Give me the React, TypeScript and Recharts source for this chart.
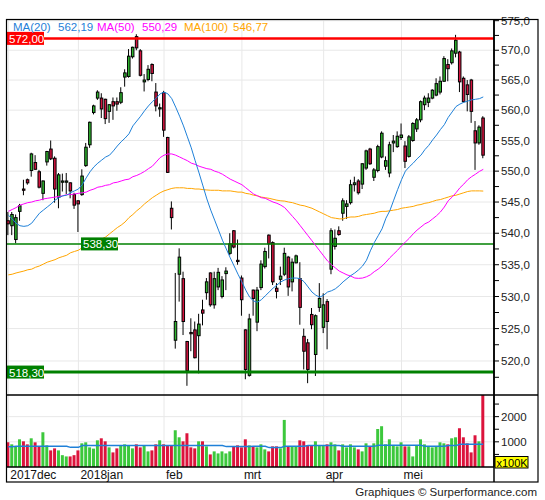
import React from 'react';
import { ComposedChart, Bar, Line, XAxis, YAxis, ReferenceLine, CartesianGrid, Cell } from 'recharts';

const FONT = '"Liberation Sans", Arial, sans-serif';
const GREEN = '#2fb52f';
const RED = '#d4133f';
const VGREEN = '#3cc83c';
const VRED = '#dc143c';
const BLUE = '#1f80d8';
const MAGENTA = '#ff00ff';
const ORANGE = '#ffa500';

const XMIN = -0.334;
const XMAX = 124.76;

const opens = [
  542.0, 541.2, 539.0, 543.5, 547.1, 548.6, 550.1, 551.4, 549.9, 546.4,
  551.5, 553.6, 552.1, 545.8, 548.2, 548.2, 548.1, 546.2, 545.2, 546.2,
  550.9, 554.3, 559.6, 562.0, 562.0, 561.8, 559.8, 561.4, 561.4, 561.3,
  565.5, 565.6, 568.9, 572.3, 569.9, 564.7, 565.1, 567.6, 563.0, 560.2,
  562.9, 555.5, 544.0, 523.2, 533.5, 532.8, 523.0, 524.4, 524.8, 523.9,
  527.9, 530.6, 533.7, 528.7, 531.5, 530.0, 533.6, 536.8, 540.4, 535.7,
  532.9, 524.8, 517.8, 531.0, 526.0, 531.4, 534.7, 539.7, 538.5, 531.3,
  532.7, 533.5, 536.2, 532.3, 535.3, 532.8, 523.8, 522.8, 527.2, 521.0,
  528.3, 525.2, 529.2, 534.3, 537.9, 540.4, 543.2, 544.3, 544.9, 547.8,
  548.4, 547.9, 550.5, 553.6, 549.0, 550.1, 552.3, 550.8, 549.7, 554.6,
  554.0, 555.5, 554.1, 552.4, 555.0, 556.9, 558.4, 560.9, 561.3, 562.0,
  562.5, 563.0, 564.8, 567.6, 567.9, 569.5, 569.7, 565.3, 564.2, 565.0,
  556.6, 554.6, 558.7,
];
const highs = [
  543.4, 543.4, 543.0, 544.7, 548.6, 548.8, 553.0, 552.6, 550.2, 548.5,
  553.3, 555.0, 552.4, 549.7, 549.6, 549.7, 548.2, 546.5, 545.3, 550.3,
  554.6, 558.1, 560.9, 563.3, 562.8, 561.9, 561.0, 562.1, 562.1, 563.8,
  566.8, 570.2, 570.6, 572.7, 570.2, 566.0, 567.5, 567.8, 564.5, 561.1,
  563.2, 555.6, 545.1, 533.7, 537.6, 533.9, 523.1, 526.6, 526.1, 527.3,
  529.5, 532.9, 533.8, 533.9, 534.5, 533.2, 534.6, 540.0, 540.5, 539.0,
  533.3, 524.9, 527.3, 531.1, 531.5, 535.7, 537.7, 539.8, 538.7, 532.1,
  534.7, 537.7, 536.4, 536.0, 536.6, 535.4, 525.0, 523.4, 528.2, 527.2,
  532.1, 530.5, 529.6, 540.8, 540.6, 541.1, 545.6, 545.3, 548.6, 549.1,
  548.7, 551.3, 553.5, 553.8, 550.5, 554.3, 556.5, 552.4, 554.8, 555.9,
  556.5, 557.8, 554.9, 555.9, 558.0, 558.7, 561.6, 562.4, 562.8, 563.5,
  565.3, 565.6, 569.0, 568.5, 570.3, 572.6, 569.9, 565.6, 565.0, 565.2,
  558.2, 557.5, 559.0,
];
const lows = [
  539.7, 539.7, 538.4, 542.0, 546.1, 547.8, 549.1, 550.2, 547.2, 545.3,
  550.9, 551.8, 544.9, 544.0, 546.7, 546.3, 545.6, 543.9, 540.2, 546.0,
  550.7, 553.8, 559.3, 561.7, 558.7, 557.7, 557.9, 558.4, 559.9, 561.0,
  563.9, 565.4, 568.6, 570.0, 565.6, 563.1, 564.8, 564.8, 559.8, 558.9,
  555.6, 549.7, 540.6, 521.9, 529.2, 524.0, 516.2, 521.5, 520.4, 518.1,
  525.5, 529.5, 528.4, 528.1, 531.0, 529.7, 531.0, 536.5, 537.6, 535.0,
  527.0, 517.2, 517.6, 527.0, 524.6, 531.0, 534.4, 536.0, 531.8, 529.7,
  531.8, 533.2, 530.1, 530.8, 535.2, 525.6, 518.7, 516.6, 524.9, 517.7,
  527.6, 524.3, 521.8, 533.5, 537.4, 539.6, 542.0, 542.3, 544.6, 546.7,
  546.2, 547.1, 550.2, 551.0, 548.4, 549.8, 552.1, 550.2, 549.0, 553.1,
  553.8, 555.1, 550.5, 552.2, 554.8, 556.4, 558.0, 560.0, 560.5, 561.8,
  562.3, 562.6, 564.7, 564.8, 567.6, 568.8, 563.0, 561.3, 559.8, 557.9,
  550.2, 554.3, 552.1,
];
const closes = [
  541.5, 543.0, 542.5, 544.4, 546.9, 548.1, 552.8, 550.3, 547.4, 548.4,
  553.2, 552.0, 547.1, 549.4, 548.4, 548.4, 546.8, 544.5, 544.7, 549.2,
  553.9, 558.0, 560.7, 563.0, 560.2, 558.6, 560.9, 560.7, 561.0, 562.9,
  566.2, 569.0, 570.5, 570.4, 565.8, 565.0, 566.8, 566.1, 560.7, 560.4,
  556.7, 549.8, 542.5, 526.1, 536.2, 526.1, 518.5, 524.2, 520.5, 525.7,
  527.4, 532.3, 528.7, 532.8, 533.8, 532.6, 534.0, 538.3, 537.8, 535.5,
  529.5, 518.7, 526.5, 529.7, 531.0, 535.1, 537.1, 538.3, 532.3, 530.8,
  533.2, 536.8, 531.5, 535.4, 536.4, 528.3, 521.5, 518.7, 525.6, 527.0,
  529.7, 528.7, 526.1, 540.4, 539.2, 539.8, 545.2, 544.7, 547.8, 548.1,
  546.5, 551.2, 553.3, 551.2, 550.2, 554.0, 556.2, 551.7, 554.3, 554.9,
  555.7, 555.9, 551.6, 555.6, 557.8, 558.4, 561.4, 562.0, 562.0, 563.3,
  564.4, 564.8, 568.6, 566.9, 569.9, 571.7, 564.7, 561.4, 562.6, 559.8,
  554.6, 557.2, 552.6,
];
const volumes = [
  980, 900, 830, 1100, 1020, 900, 1140, 980, 830, 1380,
  860, 660, 740, 660, 470, 420, 420, 470, 660, 940,
  980, 780, 730, 1060, 1140, 1020, 780, 580, 740, 860,
  900, 860, 740, 900, 780, 860, 620, 660, 900, 1060,
  900, 860, 860, 1460, 1180, 1020, 1340, 780, 740, 1020,
  1020, 820, 500, 620, 540, 620, 540, 620, 820, 860,
  780, 1100, 860, 820, 780, 900, 700, 620, 820, 820,
  740, 1870, 820, 820, 820, 1060, 1020, 860, 860, 1020,
  860, 860, 900, 980, 900, 660, 900, 780, 900, 780,
  700, 620, 940, 820, 940, 1510, 1620, 900, 1100, 860,
  820, 980, 820, 820, 420, 860, 1100, 900, 820, 780,
  820, 980, 940, 900, 1140, 1180, 1540, 1180, 940, 580,
  1260, 1020, 2950,
];
const volAvg = [
  800, 800, 820, 820, 820, 820, 820, 820, 820, 820,
  820, 820, 820, 820, 820, 820, 780, 780, 780, 850,
  850, 850, 850, 850, 850, 850, 850, 850, 850, 850,
  850, 850, 850, 850, 850, 850, 850, 850, 850, 850,
  850, 850, 850, 850, 850, 850, 850, 850, 850, 850,
  850, 850, 850, 850, 850, 850, 810, 810, 810, 810,
  810, 810, 810, 820, 820, 820, 820, 770, 770, 770,
  770, 820, 820, 820, 820, 820, 820, 850, 850, 850,
  850, 850, 850, 850, 850, 850, 820, 820, 820, 820,
  820, 820, 820, 820, 820, 860, 860, 860, 860, 860,
  860, 860, 860, 860, 860, 860, 860, 820, 820, 820,
  820, 820, 820, 850, 850, 850, 900, 900, 900, 900,
  900, 900, 900,
];
const ma20 = [
  542.9, 542.3, 541.6, 541.2, 541.1, 541.2, 541.6, 542.4, 543.2, 543.7,
  544.2, 544.7, 545.3, 545.7, 546.0, 546.1, 546.5, 546.8, 547.1, 547.8,
  548.9, 549.9, 550.7, 551.3, 551.8, 552.3, 552.6, 553.3, 554.1, 554.8,
  555.4, 556.1, 557.4, 558.2, 559.0, 559.9, 560.7, 561.4, 562.0, 562.7,
  563.0, 562.7, 561.9, 560.5, 559.0, 557.4, 555.6, 553.8, 551.7, 549.7,
  547.6, 545.5, 543.7, 542.1, 540.5, 538.9, 537.5, 536.1, 534.8, 533.5,
  532.3, 531.0, 529.9, 529.3, 529.1, 529.5, 530.1, 530.7, 531.3, 531.8,
  532.3, 532.6, 532.8, 532.9, 532.9, 532.8, 532.3, 531.5, 530.7, 530.2,
  529.9, 530.2, 530.7, 530.9, 531.2, 531.7, 532.3, 532.8, 533.3, 533.7,
  534.2, 534.8, 535.7, 537.2, 538.5, 539.6, 540.7, 542.4, 543.6, 545.3,
  547.0, 548.6, 550.0, 550.7, 551.3, 552.0, 552.6, 553.5, 554.2, 555.1,
  555.9, 556.8, 557.6, 558.8, 559.7, 560.6, 561.0, 561.3, 561.5, 561.7,
  561.8, 561.9, 562.19,
];
const ma50 = [
  543.5, 543.8, 544.1, 544.5, 544.7, 544.9, 545.0, 545.2, 545.3, 545.5,
  545.6, 545.7, 545.8, 545.9, 546.0, 546.2, 546.2, 546.3, 546.4, 546.5,
  546.6, 546.9, 547.1, 547.4, 547.5, 547.7, 547.8, 548.1, 548.2, 548.4,
  548.6, 548.7, 549.1, 549.3, 549.6, 549.95, 550.4, 550.8, 551.5, 552.2,
  552.6, 552.8, 552.8, 552.6, 552.3, 552.0, 551.7, 551.3, 551.1, 550.8,
  550.6, 550.4, 550.3, 550.0, 549.8, 549.5, 549.1, 548.7, 548.4, 548.1,
  547.8, 547.3, 546.8, 546.3, 546.0, 545.7, 545.6, 545.3, 545.0, 544.8,
  544.5, 544.1, 543.4, 542.7, 542.0, 541.2, 540.4, 539.6, 538.8, 538.0,
  537.2, 536.4, 535.6, 535.0, 534.5, 534.0, 533.7, 533.4, 533.2, 532.9,
  532.85, 532.9, 533.1, 533.4, 533.9, 534.3, 534.8, 535.4, 536.1, 536.7,
  537.3, 538.0, 538.6, 539.2, 539.9, 540.5, 541.0, 541.5, 541.8, 542.3,
  542.8, 543.4, 544.2, 545.2, 545.8, 546.5, 547.3, 547.9, 548.6, 549.1,
  549.5, 549.95, 550.29,
];
const ma100 = [
  533.4, 533.5, 533.7, 533.85, 534.0, 534.2, 534.3, 534.6, 534.8, 535.1,
  535.4, 535.6, 535.8, 536.1, 536.3, 536.5, 536.9, 537.1, 537.3, 537.7,
  538.0, 538.3, 538.6, 538.9, 539.1, 539.4, 539.9, 540.4, 540.9, 541.3,
  541.8, 542.5, 543.0, 543.6, 544.1, 544.7, 545.2, 545.7, 546.1, 546.5,
  546.8, 547.0, 547.2, 547.3, 547.3, 547.3, 547.2, 547.2, 547.1, 547.1,
  547.0, 546.95, 546.9, 546.9, 546.9, 546.8, 546.8, 546.8, 546.7, 546.6,
  546.6, 546.4, 546.3, 546.1, 546.0, 545.8, 545.7, 545.6, 545.45, 545.3,
  545.2, 545.15, 545.0, 544.9, 544.7, 544.5, 544.4, 544.2, 544.0, 543.7,
  543.4, 543.1, 542.8, 542.5, 542.4, 542.3, 542.3, 542.5, 542.6, 542.6,
  542.7, 542.9, 543.0, 543.1, 543.2, 543.4, 543.5, 543.5, 543.6, 543.7,
  543.8, 544.0, 544.1, 544.2, 544.3, 544.5, 544.6, 544.8, 544.9, 545.1,
  545.3, 545.4, 545.6, 545.8, 546.0, 546.1, 546.3, 546.5, 546.7, 546.8,
  546.8, 546.8, 546.77,
];

const monthTicks = [0, 18, 40, 60, 81, 101];
const monthLabels = ['2017dec', '2018jan', 'feb', 'mrt', 'apr', 'mei'];
const priceTicks = [
  517.5, 520, 522.5, 525, 527.5, 530, 532.5, 535, 537.5, 540, 542.5, 545,
  547.5, 550, 552.5, 555, 557.5, 560, 562.5, 565, 567.5, 570, 572.5, 575,
];
const priceGrid = [520, 525, 530, 535, 540, 545, 550, 555, 560, 565, 570, 575];
const volTicks = [500, 1000, 1500, 2000, 2500];
const volLabels = [1000, 2000];
const levelValues = [572.0, 538.3, 518.3];
const levelTexts = ['572,00', '538,30', '518,30'];
const levelColors = ['#ff0000', '#008000', '#008000'];
const levelWidths = [2.5, 1.5, 3];
const levelLabelDx = [0, 74, 0];
const legendNames = ['MA(20)', 'MA(50)', 'MA(100)'];
const legendValues = ['562,19', '550,29', '546,77'];
const legendColors = [BLUE, MAGENTA, ORANGE];

const data = opens.map((o, i) => {
  const c = closes[i];
  return {
    i,
    wick: [lows[i], highs[i]],
    body: [Math.min(o, c), Math.max(o, c)],
    up: c >= o,
    vol: volumes[i],
    volAvg: volAvg[i],
    ma20: ma20[i],
    ma50: ma50[i],
    ma100: ma100[i],
  };
});

const WickShape = (props: any) => {
  const { x, y, width, height } = props;
  if (x == null || y == null) return null;
  const cx = x + width / 2;
  const top = height < 0 ? y + height : y;
  return <line x1={cx} x2={cx} y1={top} y2={top + Math.abs(height)} stroke="#000" strokeWidth={1} />;
};

const BodyShape = (props: any) => {
  const { x, y, width, height, payload } = props;
  if (x == null || y == null) return null;
  const top = height < 0 ? y + height : y;
  const h = Math.max(Math.abs(height), 1);
  return (
    <rect
      x={x + 0.5}
      y={top}
      width={Math.max(width - 1, 1)}
      height={h}
      fill={payload && payload.up ? GREEN : RED}
      stroke="#000"
      strokeWidth={1}
    />
  );
};

const PriceTick = (props: any) => {
  const { x, y, payload } = props;
  const v = payload.value;
  if (Math.abs(v / 5 - Math.round(v / 5)) > 1e-6) return null;
  return (
    <text x={x} y={y} dy={4} fill="#222" fontSize={11.5} fontFamily={FONT} textAnchor="start">
      {v.toFixed(1).replace('.', ',')}
    </text>
  );
};

const VolTick = (props: any) => {
  const { x, y, payload } = props;
  if (volLabels.indexOf(payload.value) < 0) return null;
  return (
    <text x={x} y={y} dy={4} fill="#222" fontSize={11.5} fontFamily={FONT} textAnchor="start">
      {String(payload.value)}
    </text>
  );
};

const DateTick = (props: any) => {
  const { x, y, payload } = props;
  const idx = monthTicks.indexOf(payload.value);
  if (idx < 0) return null;
  return (
    <text x={x + 2} y={y + 11.5} fill="#111" fontSize={12} fontFamily={FONT} textAnchor="start">
      {monthLabels[idx]}
    </text>
  );
};

const makeLevelLabel = (k: number) => (p: any) => {
  const vb = p.viewBox || {};
  const x = (vb.x || 0) + levelLabelDx[k];
  const y = vb.y || 0;
  return (
    <g>
      <rect x={x} y={y - 6.5} width={37} height={13} fill={levelColors[k]} />
      <text x={x + 2} y={y + 4.5} fill="#fff" fontSize={11.5} fontFamily={FONT}>
        {levelTexts[k]}
      </text>
    </g>
  );
};

export default function App() {
  return (
    <div style={{ position: 'absolute', left: 0, top: 0, width: 545, height: 500, background: '#fff', overflow: 'hidden' }}>
      <div style={{ position: 'absolute', left: 0, top: 0 }}>
        <ComposedChart width={545} height={395} data={data} margin={{ top: 19.5, right: 7, bottom: 0, left: 7 }}>
          <CartesianGrid xAxisId="w" stroke="#e8e8e8" horizontalValues={priceGrid} verticalValues={monthTicks} />
          <XAxis xAxisId="w" dataKey="i" type="number" domain={[XMIN, XMAX]} allowDataOverflow hide />
          <XAxis xAxisId="b" dataKey="i" type="number" domain={[XMIN, XMAX]} allowDataOverflow hide />
          <YAxis
            orientation="right"
            type="number"
            scale="log"
            domain={[514.8, 575.2]}
            allowDataOverflow
            ticks={priceTicks}
            interval={0}
            tick={<PriceTick />}
            tickSize={5}
            tickMargin={2}
            tickLine={{ stroke: '#000' }}
            axisLine={{ stroke: '#000', strokeWidth: 1.5 }}
            width={44}
          />
          {levelValues.map((v, k) => (
            <ReferenceLine key={'l' + k} xAxisId="w" y={v} stroke={levelColors[k]} strokeWidth={levelWidths[k]} />
          ))}
          <Bar xAxisId="w" dataKey="wick" barSize={1} shape={<WickShape />} isAnimationActive={false} />
          <Bar xAxisId="b" dataKey="body" barSize={4} shape={<BodyShape />} isAnimationActive={false} />
          <Line xAxisId="w" type="linear" dataKey="ma100" stroke={ORANGE} strokeWidth={1} dot={false} isAnimationActive={false} />
          <Line xAxisId="w" type="linear" dataKey="ma50" stroke={MAGENTA} strokeWidth={1} dot={false} isAnimationActive={false} />
          <Line xAxisId="w" type="linear" dataKey="ma20" stroke={BLUE} strokeWidth={1} dot={false} isAnimationActive={false} />
          {levelValues.map((v, k) => (
            <ReferenceLine key={'t' + k} xAxisId="w" y={v} stroke="none" label={makeLevelLabel(k)} />
          ))}
        </ComposedChart>
      </div>
      <div style={{ position: 'absolute', left: 0, top: 395 }}>
        <ComposedChart width={545} height={87} data={data} margin={{ top: 0, right: 7, bottom: 0, left: 7 }}>
          <CartesianGrid xAxisId="w" stroke="#e8e8e8" horizontalValues={[1000, 2000]} verticalValues={monthTicks} />
          <XAxis
            xAxisId="w"
            dataKey="i"
            type="number"
            domain={[XMIN, XMAX]}
            allowDataOverflow
            ticks={monthTicks}
            interval={0}
            height={15}
            tickSize={0}
            tickMargin={0}
            tickLine={false}
            axisLine={{ stroke: '#000', strokeWidth: 1.5 }}
            tick={<DateTick />}
          />
          <YAxis
            orientation="right"
            type="number"
            domain={[0, 2860]}
            allowDataOverflow
            ticks={volTicks}
            interval={0}
            tick={<VolTick />}
            tickSize={5}
            tickMargin={2}
            tickLine={{ stroke: '#000' }}
            axisLine={{ stroke: '#000', strokeWidth: 1.5 }}
            width={44}
          />
          <Bar xAxisId="w" dataKey="vol" barSize={3} isAnimationActive={false}>
            {data.map((d) => (
              <Cell key={d.i} fill={d.up ? VGREEN : VRED} />
            ))}
          </Bar>
          <Line xAxisId="w" type="linear" dataKey="volAvg" stroke={BLUE} strokeWidth={1.5} dot={false} isAnimationActive={false} />
        </ComposedChart>
      </div>
      <svg width={545} height={500} style={{ position: 'absolute', left: 0, top: 0, pointerEvents: 'none' }}>
        <rect x={6.5} y={19.5} width={531.5} height={462.5} fill="none" stroke="#000" strokeWidth={1.2} />
        <line x1={6.5} x2={538} y1={395} y2={395} stroke="#000" strokeWidth={1.5} />
        <line x1={494} x2={494} y1={19.5} y2={482} stroke="#000" strokeWidth={1.5} />
        {legendNames.map((n, k) => null)}
        <text x={13} y={31} fontSize={11.5} fontFamily={FONT} fill={legendColors[0]}>{legendNames[0]}</text>
        <text x={58} y={31} fontSize={11.5} fontFamily={FONT} fill={legendColors[0]}>{legendValues[0]}</text>
        <text x={97} y={31} fontSize={11.5} fontFamily={FONT} fill={legendColors[1]}>{legendNames[1]}</text>
        <text x={142} y={31} fontSize={11.5} fontFamily={FONT} fill={legendColors[1]}>{legendValues[1]}</text>
        <text x={184} y={31} fontSize={11.5} fontFamily={FONT} fill={legendColors[2]}>{legendNames[2]}</text>
        <text x={233} y={31} fontSize={11.5} fontFamily={FONT} fill={legendColors[2]}>{legendValues[2]}</text>
        <rect x={495} y={456.5} width={33} height={11.5} fill="#ffff00" stroke="#000" strokeWidth={1} />
        <text x={496.5} y={466.5} fontSize={11} fontFamily={FONT} fill="#000">x100K</text>
        <text x={537} y={496} fontSize={11.5} fontFamily={FONT} fill="#222" textAnchor="end">
          Graphiques © Surperformance.com
        </text>
      </svg>
    </div>
  );
}
